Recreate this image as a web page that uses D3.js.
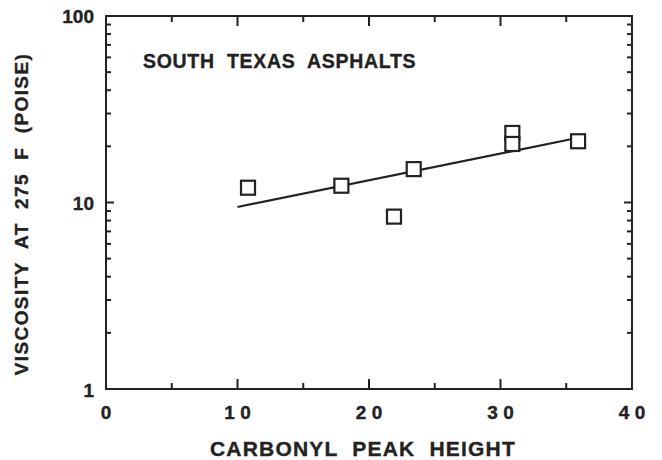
<!DOCTYPE html>
<html>
<head>
<meta charset="utf-8">
<script src="https://cdn.jsdelivr.net/npm/d3@7"></script>
<style>
  html, body { margin: 0; padding: 0; background: #fff; }
  svg text { font-family: "Liberation Sans", Arial, Helvetica, sans-serif; font-weight: bold; fill: #222; stroke: #222; stroke-width: 0.35; }
</style>
</head>
<body>
<svg id="chart" width="662" height="460"></svg>
<script>
// Carbonyl peak height vs. viscosity at 275 F, south Texas asphalts
const carbonyl = [10.8, 17.9, 21.9, 23.4, 30.9, 30.9, 35.9];
const viscosity = [12.0, 12.3, 8.4, 15.1, 23.6, 20.6, 21.3];

// Least-squares trend (log viscosity) end points
const fitX = [10, 36];
const fitY = [9.46, 22.3];

const xTicks = [0, 10, 20, 30, 40];
const xTickLabels = ["0", "1 0", "2 0", "3 0", "4 0"];
const xMinorTicks = [5, 15, 25, 35];
const yTicks = [1, 10, 100];
const yTickLabels = ["1", "10", "100"];

const title = "SOUTH  TEXAS  ASPHALTS";
const xTitle = "CARBONYL  PEAK  HEIGHT";
const yTitle = "VISCOSITY  AT  275  F  (POISE)";

const margin = { left: 106, right: 30, top: 16, bottom: 71 };
const W = 662, H = 460;

const svg = d3.select("#chart");
const x = d3.scaleLinear().domain([0, 40]).range([margin.left, W - margin.right]);
const y = d3.scaleLog().domain([1, 100]).range([H - margin.bottom, margin.top]);

const ink = "#222";

// minor log ticks 2..9 in each decade
const yMinor = [];
[1, 10].forEach(d => { for (let k = 2; k <= 9; k++) yMinor.push(d * k); });

// Frame
svg.append("rect")
  .attr("x", x(0)).attr("y", y(100))
  .attr("width", x(40) - x(0)).attr("height", y(1) - y(100))
  .attr("fill", "none").attr("stroke", ink).attr("stroke-width", 2);

// Inward ticks on all four sides
const ticks = svg.append("g").attr("stroke", ink).attr("stroke-width", 2);
xTicks.slice(1, -1).forEach(v => {
  ticks.append("line").attr("x1", x(v)).attr("x2", x(v)).attr("y1", y(1)).attr("y2", y(1) - 10);
  ticks.append("line").attr("x1", x(v)).attr("x2", x(v)).attr("y1", y(100)).attr("y2", y(100) + 10);
});
xMinorTicks.forEach(v => {
  ticks.append("line").attr("x1", x(v)).attr("x2", x(v)).attr("y1", y(1)).attr("y2", y(1) - 6);
  ticks.append("line").attr("x1", x(v)).attr("x2", x(v)).attr("y1", y(100)).attr("y2", y(100) + 6);
});
yTicks.slice(1, -1).forEach(v => {
  ticks.append("line").attr("x1", x(0)).attr("x2", x(0) + 8).attr("y1", y(v)).attr("y2", y(v));
  ticks.append("line").attr("x1", x(40)).attr("x2", x(40) - 8).attr("y1", y(v)).attr("y2", y(v));
});
yMinor.forEach(v => {
  ticks.append("line").attr("x1", x(0)).attr("x2", x(0) + 5).attr("y1", y(v)).attr("y2", y(v));
  ticks.append("line").attr("x1", x(40)).attr("x2", x(40) - 5).attr("y1", y(v)).attr("y2", y(v));
});

// Tick labels
svg.append("g").selectAll("text").data(xTicks).join("text")
  .attr("x", d => x(d)).attr("y", y(1) + 30)
  .attr("text-anchor", "middle").attr("font-size", 19)
  .attr("xml:space", "preserve")
  .text((d, i) => xTickLabels[i]);
svg.append("g").selectAll("text").data(yTicks).join("text")
  .attr("x", x(0) - 12).attr("y", d => y(d) + (d === 1 ? 8 : 7))
  .attr("text-anchor", "end").attr("font-size", 19)
  .text((d, i) => yTickLabels[i]);

// Axis titles
svg.append("text")
  .attr("x", 363).attr("y", 456)
  .attr("text-anchor", "middle").attr("font-size", 21).attr("letter-spacing", 1.2)
  .attr("xml:space", "preserve")
  .text(xTitle);
svg.append("text")
  .attr("transform", "translate(28," + 214 + ") rotate(-90)")
  .attr("text-anchor", "middle").attr("font-size", 19).attr("letter-spacing", 1.4)
  .attr("xml:space", "preserve")
  .text(yTitle);

// Panel label
svg.append("text")
  .attr("x", 143).attr("y", 68)
  .attr("font-size", 19.5).attr("letter-spacing", 0.7)
  .attr("xml:space", "preserve")
  .text(title);

// Trend line
svg.append("line")
  .attr("x1", x(fitX[0])).attr("y1", y(fitY[0]))
  .attr("x2", x(fitX[1])).attr("y2", y(fitY[1]))
  .attr("stroke", ink).attr("stroke-width", 2.2);

// Open square markers
const s = 14;
svg.append("g").selectAll("rect").data(carbonyl).join("rect")
  .attr("x", (d) => x(d) - s / 2)
  .attr("y", (d, i) => y(viscosity[i]) - s / 2)
  .attr("width", s).attr("height", s)
  .attr("fill", "#fff").attr("stroke", ink).attr("stroke-width", 2.2);
</script>
</body>
</html>
